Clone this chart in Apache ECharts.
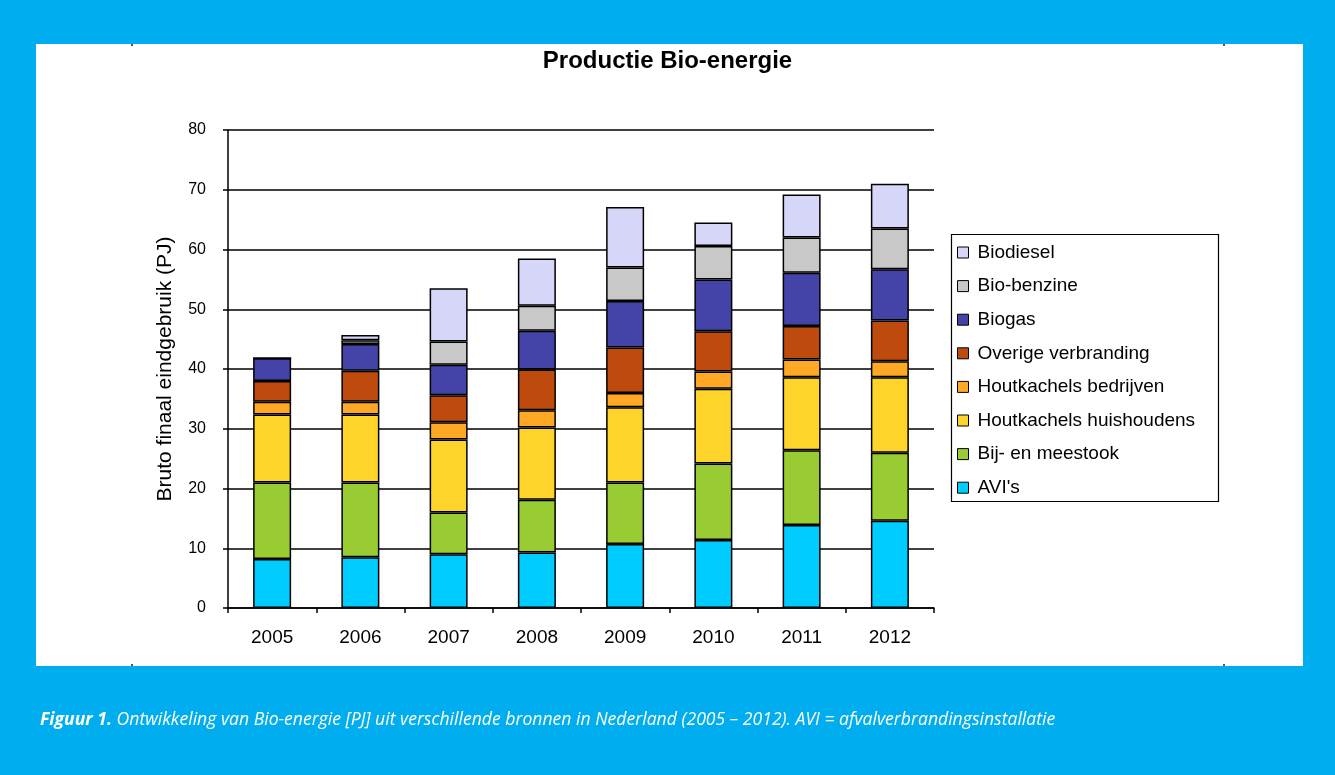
<!DOCTYPE html>
<html>
<head>
<meta charset="utf-8">
<script src="https://cdn.jsdelivr.net/npm/echarts@6/dist/echarts.min.js"></script>
<style>
  html, body { margin: 0; padding: 0; width: 1335px; height: 775px; background: #00AEEF; overflow: hidden; }
  #panel { position: absolute; left: 36px; top: 44px; width: 1267px; height: 622px; background: #ffffff; }
  #chart { position: absolute; left: 0; top: 0; width: 1335px; height: 775px; }
</style>
</head>
<body>
<div id="panel"></div>
<div id="chart"></div>
<script>
const years = ['2005', '2006', '2007', '2008', '2009', '2010', '2011', '2012'];
const avis        = [8.2, 8.5, 9.0, 9.3, 10.7, 11.4, 13.9, 14.6];
const bijMeestook = [12.8, 12.5, 7.0, 8.8, 10.3, 12.8, 12.5, 11.4];
const huishoudens = [11.4, 11.4, 12.2, 12.1, 12.6, 12.5, 12.2, 12.6];
const bedrijven   = [2.1, 2.1, 2.9, 2.9, 2.4, 2.9, 3.0, 2.7];
const overige     = [3.5, 5.2, 4.5, 6.8, 7.6, 6.7, 5.6, 6.8];
const biogas      = [3.8, 4.5, 5.1, 6.5, 7.8, 8.7, 8.9, 8.6];
const bioBenzine  = [0, 0.6, 3.9, 4.2, 5.6, 5.6, 5.9, 6.8];
const biodiesel   = [0, 0.9, 8.9, 7.9, 10.1, 3.9, 7.2, 7.5];
const yTicks = [0, 10, 20, 30, 40, 50, 60, 70, 80];

const seriesDefs = [
  { name: "AVI's", data: avis, color: '#00CCFF' },
  { name: 'Bij- en meestook', data: bijMeestook, color: '#99CC33' },
  { name: 'Houtkachels huishoudens', data: huishoudens, color: '#FFD42A' },
  { name: 'Houtkachels bedrijven', data: bedrijven, color: '#FFA826' },
  { name: 'Overige verbranding', data: overige, color: '#BF4A0E' },
  { name: 'Biogas', data: biogas, color: '#4343A8' },
  { name: 'Bio-benzine', data: bioBenzine, color: '#C8C8C8' },
  { name: 'Biodiesel', data: biodiesel, color: '#D6D6F8' }
];

const chart = echarts.init(document.getElementById('chart'), null, { renderer: 'canvas' });
const FONT = '"Liberation Sans", Arial, sans-serif';

chart.setOption({
  backgroundColor: 'transparent',
  animation: false,
  title: {
    text: 'Productie Bio-energie',
    left: 'center',
    top: 49,
    padding: 0,
    textStyle: { fontFamily: FONT, fontWeight: 'bold', fontSize: 24, color: '#000' }
  },
  legend: {
    orient: 'vertical',
    left: 957,
    top: 243,
    padding: 0,
    itemWidth: 11,
    itemHeight: 11,
    itemGap: 14.6,
    icon: 'rect',
    data: seriesDefs.map(s => s.name).reverse(),
    itemStyle: { borderColor: '#000', borderWidth: 1 },
    textStyle: { fontFamily: FONT, fontSize: 19, color: '#000', padding: [0, 0, 0, 4] }
  },
  grid: { left: 228, right: 401, top: 130, bottom: 167, containLabel: false },
  xAxis: {
    type: 'category',
    data: years,
    axisLine: { lineStyle: { color: '#000', width: 1.5 } },
    axisTick: { show: true, length: 5, lineStyle: { color: '#000', width: 1.5 } },
    axisLabel: { fontFamily: FONT, fontSize: 19, color: '#000', margin: 20 }
  },
  yAxis: {
    type: 'value',
    min: 0, max: 80, interval: 10,
    name: 'Bruto finaal eindgebruik (PJ)',
    nameLocation: 'middle',
    nameGap: 52,
    nameTextStyle: { fontFamily: FONT, fontSize: 21, color: '#000' },
    axisLine: { show: true, lineStyle: { color: '#000', width: 1.5 } },
    axisTick: { show: true, length: 5, lineStyle: { color: '#000', width: 1.5 } },
    splitLine: { show: true, lineStyle: { color: '#000', width: 1.5 } },
    axisLabel: {
      fontFamily: FONT, fontSize: 16, color: '#000', margin: 22,
      formatter: v => yTicks.includes(v) ? String(v) : ''
    }
  },
  series: seriesDefs.map(s => ({
    name: s.name,
    type: 'bar',
    stack: 'total',
    barWidth: 38,
    data: s.data,
    itemStyle: { color: s.color, borderColor: '#000', borderWidth: 1.5 },
    emphasis: { disabled: true }
  })),
  graphic: [
    { type: 'rect', shape: { x: 951.5, y: 234.5, width: 267, height: 267 },
      style: { fill: 'none', stroke: '#000', lineWidth: 1.2 } },
    { type: 'rect', shape: { x: 131, y: 44, width: 2, height: 2 }, style: { fill: '#555' } },
    { type: 'rect', shape: { x: 1223, y: 44, width: 2, height: 2 }, style: { fill: '#555' } },
    { type: 'rect', shape: { x: 131, y: 664, width: 2, height: 2 }, style: { fill: '#555' } },
    { type: 'rect', shape: { x: 1223, y: 664, width: 2, height: 2 }, style: { fill: '#555' } },
    {
      type: 'text',
      left: 40,
      top: 711,
      style: {
        text: '{b|Figuur 1.} {i|Ontwikkeling van Bio-energie [PJ] uit verschillende bronnen in Nederland (2005 – 2012). AVI = afvalverbrandingsinstallatie}',
        rich: {
          b: { fontFamily: '"Open Sans", sans-serif', fontStyle: 'italic', fontWeight: 'bold', fontSize: 17.6, fill: '#fff' },
          i: { fontFamily: '"Open Sans", sans-serif', fontStyle: 'italic', fontSize: 17.6, fill: '#fff' }
        },
        fill: '#fff',
        fontFamily: '"Open Sans", sans-serif',
        fontStyle: 'italic',
        fontSize: 17.6
      }
    }
  ]
});
</script>
</body>
</html>
